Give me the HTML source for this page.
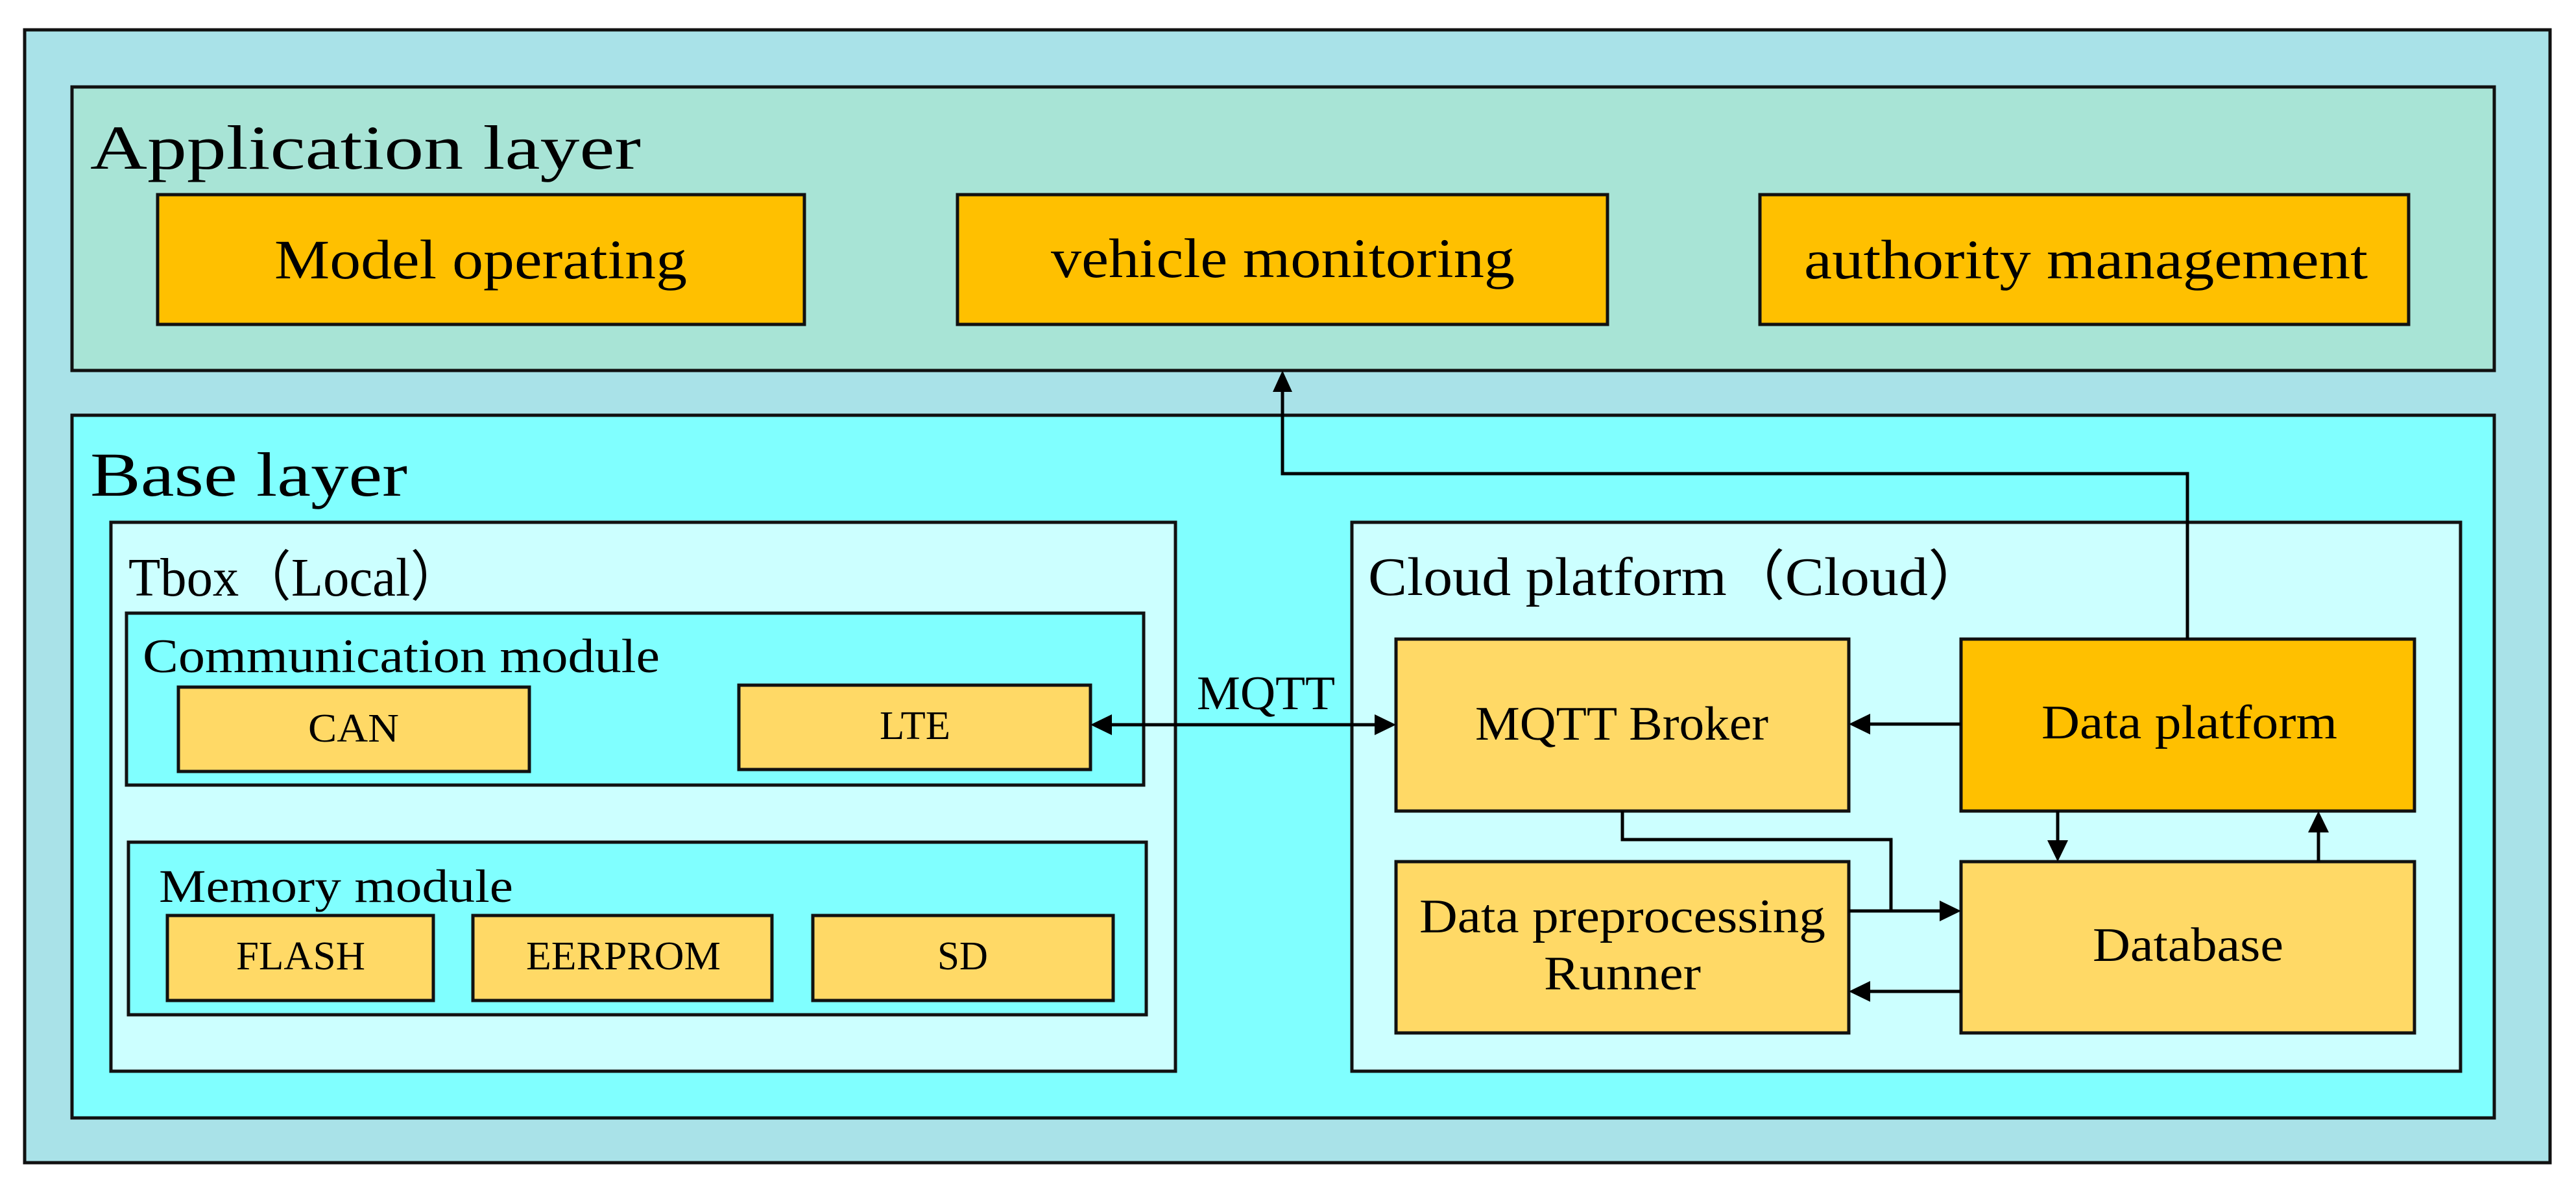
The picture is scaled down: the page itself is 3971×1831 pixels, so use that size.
<!DOCTYPE html>
<html><head><meta charset="utf-8"><style>html,body{margin:0;padding:0;background:#fff}svg{display:block}</style></head>
<body>
<svg width="3971" height="1831" viewBox="0 0 3971 1831" xmlns="http://www.w3.org/2000/svg" font-family="'Liberation Serif', serif" fill="#000">
<g stroke="#111" stroke-width="5">
<rect x="38" y="46" width="3893" height="1746" fill="#A9E2E8"/>
<rect x="111" y="134" width="3734" height="437" fill="#A8E4D6"/>
<rect x="243" y="300" width="997" height="200" fill="#FFC000"/>
<rect x="1476" y="300" width="1002" height="200" fill="#FFC000"/>
<rect x="2713" y="300" width="1000" height="200" fill="#FFC000"/>
<rect x="111" y="640" width="3734" height="1083" fill="#80FFFF"/>
<rect x="171" y="805" width="1641" height="846" fill="#CCFFFF"/>
<rect x="195" y="945" width="1568" height="265" fill="#80FFFF"/>
<rect x="275" y="1059" width="541" height="130" fill="#FFD966"/>
<rect x="1139" y="1056" width="542" height="130" fill="#FFD966"/>
<rect x="198" y="1298" width="1569" height="266" fill="#80FFFF"/>
<rect x="258" y="1411" width="410" height="131" fill="#FFD966"/>
<rect x="729" y="1411" width="461" height="131" fill="#FFD966"/>
<rect x="1253" y="1411" width="463" height="131" fill="#FFD966"/>
<rect x="2084" y="805" width="1709" height="846" fill="#CCFFFF"/>
<rect x="2152" y="985" width="698" height="265" fill="#FFD966"/>
<rect x="3023" y="985" width="699" height="265" fill="#FFC000"/>
<rect x="2152" y="1328" width="698" height="264" fill="#FFD966"/>
<rect x="3023" y="1328" width="699" height="264" fill="#FFD966"/>
</g>
<g stroke="#000" stroke-width="5" fill="none">
<polyline points="3372,985 3372,730 1977,730 1977,600"/>
<line x1="1712" y1="1117" x2="2122" y2="1117"/>
<line x1="3023" y1="1116" x2="2880" y2="1116"/>
<polyline points="2501,1250 2501,1294 2915,1294 2915,1404"/>
<line x1="2850" y1="1404" x2="2993" y2="1404"/>
<line x1="3023" y1="1528" x2="2880" y2="1528"/>
<line x1="3172" y1="1250" x2="3172" y2="1298"/>
<line x1="3574" y1="1328" x2="3574" y2="1280"/>
</g>
<g fill="#000">
<polygon points="1977,571 1962,604 1992,604"/>
<polygon points="1681,1117 1714,1101 1714,1133"/>
<polygon points="2152,1117 2119,1101 2119,1133"/>
<polygon points="2850,1116 2883,1100 2883,1132"/>
<polygon points="3023,1404 2990,1388 2990,1420"/>
<polygon points="2850,1528 2883,1512 2883,1544"/>
<polygon points="3172,1328 3156,1295 3188,1295"/>
<polygon points="3574,1250 3558,1283 3590,1283"/>
</g>
<g>
<text x="139" y="260" font-size="96" textLength="849" lengthAdjust="spacingAndGlyphs">Application layer</text>
<text x="423" y="429" font-size="86" textLength="636" lengthAdjust="spacingAndGlyphs">Model operating</text>
<text x="1620" y="427" font-size="86" textLength="715" lengthAdjust="spacingAndGlyphs">vehicle monitoring</text>
<text x="2781" y="429" font-size="86" textLength="869" lengthAdjust="spacingAndGlyphs">authority management</text>
<text x="139" y="764" font-size="96" textLength="489" lengthAdjust="spacingAndGlyphs">Base layer</text>
<text x="198" y="918" font-size="84" textLength="515" lengthAdjust="spacingAndGlyphs">Tbox（Local）</text>
<text x="220" y="1036" font-size="74" textLength="797" lengthAdjust="spacingAndGlyphs">Communication module</text>
<text x="475" y="1143" font-size="62" textLength="140" lengthAdjust="spacingAndGlyphs">CAN</text>
<text x="1356" y="1139" font-size="62" textLength="109" lengthAdjust="spacingAndGlyphs">LTE</text>
<text x="245" y="1390" font-size="72" textLength="546" lengthAdjust="spacingAndGlyphs">Memory module</text>
<text x="364" y="1494" font-size="62" textLength="199" lengthAdjust="spacingAndGlyphs">FLASH</text>
<text x="811" y="1494" font-size="62" textLength="300" lengthAdjust="spacingAndGlyphs">EERPROM</text>
<text x="1445" y="1494" font-size="62" textLength="78" lengthAdjust="spacingAndGlyphs">SD</text>
<text x="2109" y="917" font-size="84" textLength="953" lengthAdjust="spacingAndGlyphs">Cloud platform（Cloud）</text>
<text x="1845" y="1093" font-size="74" textLength="213" lengthAdjust="spacingAndGlyphs">MQTT</text>
<text x="2274" y="1140" font-size="74" textLength="452" lengthAdjust="spacingAndGlyphs">MQTT Broker</text>
<text x="3147" y="1138" font-size="74" textLength="456" lengthAdjust="spacingAndGlyphs">Data platform</text>
<text x="2188" y="1437" font-size="74" textLength="626" lengthAdjust="spacingAndGlyphs">Data preprocessing</text>
<text x="2380" y="1525" font-size="74" textLength="242" lengthAdjust="spacingAndGlyphs">Runner</text>
<text x="3226" y="1481" font-size="74" textLength="294" lengthAdjust="spacingAndGlyphs">Database</text>
</g>
</svg>
</body></html>
